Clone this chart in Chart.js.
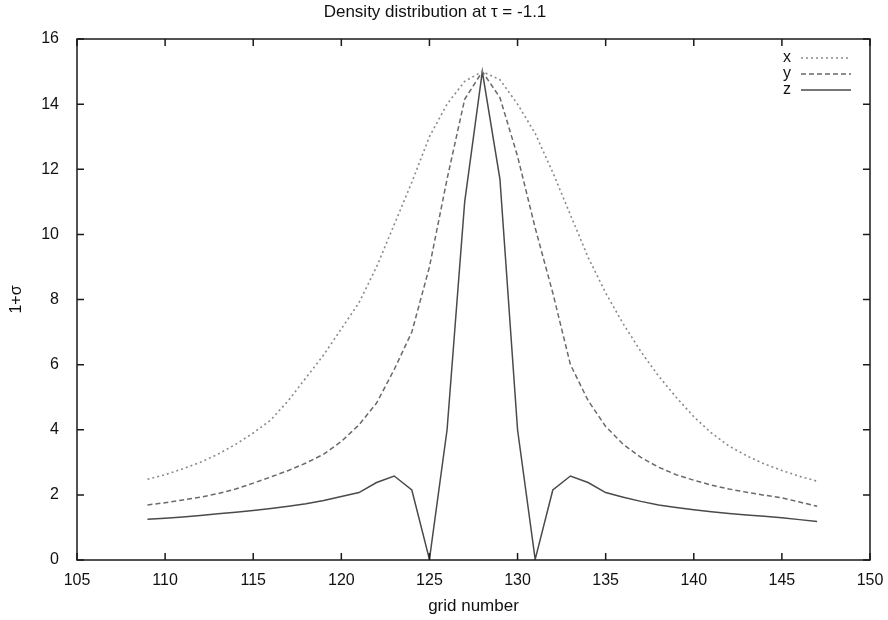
<!DOCTYPE html>
<html>
<head>
<meta charset="utf-8">
<script src="https://cdn.jsdelivr.net/npm/chart.js@4/dist/chart.umd.min.js"></script>
<style>
  body{margin:0;background:#fff;}
  #wrap{width:888px;height:620px;}
</style>
</head>
<body>
<div id="wrap"><canvas id="density"></canvas></div>
<script>
//grid numbers along x
let grid=[109,110,111,112,113,114,115,116,117,118,119,120,121,122,123,124,125,126,127,128,
  129,130,131,132,133,134,135,136,137,138,139,140,141,142,143,144,145,146,147];
//1+sigma along each direction
let sx=[2.48,2.62,2.8,3.0,3.25,3.55,3.9,4.3,4.9,5.6,6.3,7.1,7.9,9.0,10.3,11.6,13.0,14.0,14.7,15.0,
  14.75,14.0,13.1,11.9,10.6,9.3,8.2,7.25,6.4,5.65,5.0,4.4,3.9,3.5,3.2,2.95,2.75,2.57,2.42];
let sy=[1.69,1.76,1.84,1.93,2.04,2.18,2.36,2.55,2.75,2.98,3.25,3.64,4.15,4.82,5.85,7.0,9.0,11.7,14.15,15.0,
  14.2,12.4,10.2,8.2,6.0,4.9,4.1,3.55,3.15,2.85,2.62,2.45,2.3,2.18,2.08,1.99,1.91,1.78,1.65];
let sz=[1.25,1.28,1.32,1.37,1.42,1.47,1.52,1.58,1.65,1.73,1.83,1.95,2.07,2.38,2.58,2.15,0.02,4.0,11.0,15.0,
  11.7,4.0,0.02,2.15,2.58,2.38,2.07,1.93,1.8,1.69,1.61,1.54,1.48,1.43,1.38,1.34,1.30,1.24,1.18];
let names=['x','y','z'];
let xTicks={min:105,max:150,step:5};
let yTicks={min:0,max:16,step:2};

let font='"Liberation Sans", Arial, sans-serif';
let pts=function(vals){ return grid.map(function(g,i){ return {x:g,y:vals[i]}; }); };

//frame and inward ticks like gnuplot
let frame={
  id:'frame',
  afterDraw(chart){
    let ctx=chart.ctx, a=chart.chartArea, sx_=chart.scales.x, sy_=chart.scales.y;
    ctx.save();
    ctx.strokeStyle='#1a1a1a';
    ctx.lineWidth=1.5;
    ctx.strokeRect(a.left,a.top,a.width,a.height);
    ctx.beginPath();
    sx_.ticks.forEach(function(t){
      let p=sx_.getPixelForValue(t.value);
      ctx.moveTo(p,a.bottom); ctx.lineTo(p,a.bottom-7);
      ctx.moveTo(p,a.top); ctx.lineTo(p,a.top+7);
    });
    sy_.ticks.forEach(function(t){
      let p=sy_.getPixelForValue(t.value);
      ctx.moveTo(a.left,p); ctx.lineTo(a.left+7,p);
      ctx.moveTo(a.right,p); ctx.lineTo(a.right-7,p);
    });
    ctx.stroke();
    //key, text left of the sample line
    ctx.font='16px '+font;
    ctx.textAlign='right';
    ctx.textBaseline='middle';
    chart.data.datasets.forEach(function(ds,i){
      let yy=a.top+19+i*16;
      ctx.fillStyle='#111';
      ctx.fillText(ds.label,a.right-79,yy);
      ctx.strokeStyle=ds.borderColor;
      ctx.lineWidth=ds.borderWidth;
      ctx.setLineDash(ds.borderDash||[]);
      ctx.beginPath();
      ctx.moveTo(a.right-69,yy); ctx.lineTo(a.right-19,yy);
      ctx.stroke();
    });
    ctx.restore();
  }
};

let densityChart=new Chart(document.getElementById('density'),{
  type:'line',
  data:{
    datasets:[
      {label:names[0],data:pts(sx),borderColor:'#8a8a8a',borderWidth:1.6,borderDash:[2,3]},
      {label:names[1],data:pts(sy),borderColor:'#6a6a6a',borderWidth:1.5,borderDash:[5,3]},
      {label:names[2],data:pts(sz),borderColor:'#4a4a4a',borderWidth:1.5}
    ]
  },
  options:{
    responsive:true,
    maintainAspectRatio:false,
    animation:false,
    elements:{point:{radius:0},line:{tension:0}},
    layout:{padding:{left:0,right:18,top:0,bottom:0}},
    plugins:{
      legend:{display:false},
      tooltip:{enabled:false},
      title:{
        display:true,
        text:'Density distribution at \u03c4 = -1.1',
        color:'#111',
        font:{family:font,size:17,weight:'normal'},
        padding:{top:2,bottom:16.6}
      }
    },
    scales:{
      x:{
        type:'linear',
        min:xTicks.min,max:xTicks.max,
        ticks:{stepSize:xTicks.step,color:'#111',padding:3,maxRotation:0,
          font:{family:font,size:16}},
        grid:{display:false},
        border:{display:false},
        title:{display:true,text:'grid number',color:'#111',padding:{top:0,bottom:3},
          font:{family:font,size:17}},
        afterFit(s){ s.height=60; }
      },
      y:{
        min:yTicks.min,max:yTicks.max,
        ticks:{stepSize:yTicks.step,color:'#111',padding:10,
          font:{family:font,size:16}},
        grid:{display:false},
        border:{display:false},
        title:{display:true,text:'1+\u03c3',color:'#111',padding:{top:7,bottom:0},
          font:{family:font,size:16}},
        afterFit(s){ s.width=77; }
      }
    }
  },
  plugins:[frame]
});
</script>
</body>
</html>
